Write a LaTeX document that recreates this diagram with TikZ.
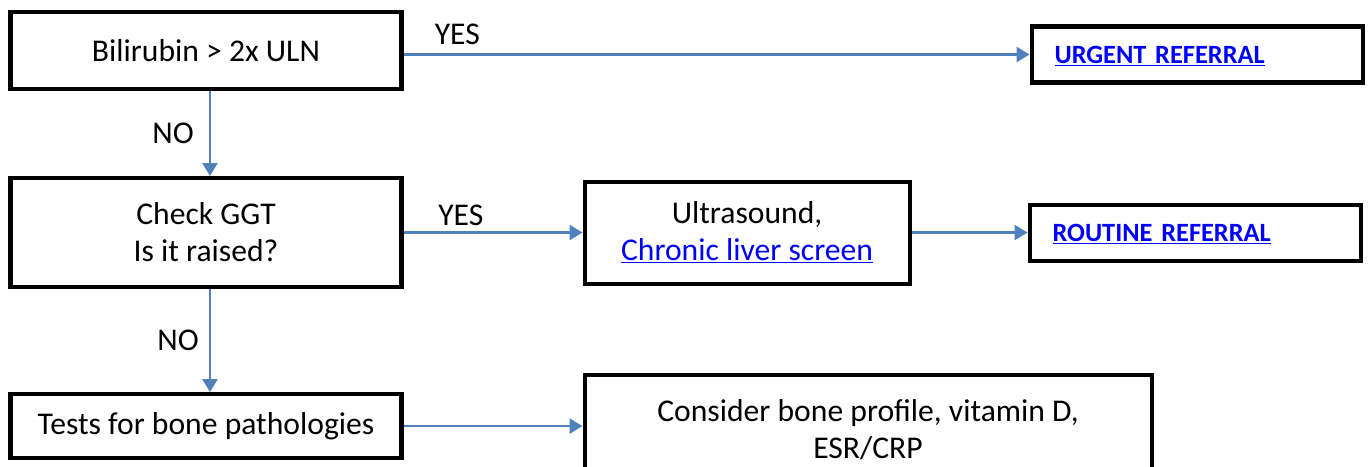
\documentclass[tikz,border=0pt]{standalone}
\usepackage{fontspec}
\setmainfont{Carlito}
\usetikzlibrary{arrows.meta, positioning}

\begin{document}
\begin{tikzpicture}[
    every node/.style={font=\fontsize{18}{21}\selectfont},
    stepbox/.style={rectangle, draw=black, line width=2.3pt, text centered, align=center, fill=white},
    referral/.style={rectangle, draw=black, line width=2.3pt, minimum height=1.12cm, text depth=0pt,
        inner xsep=0.46cm, text width=5.7cm, align=left, text=blue, font=\fontsize{15}{18}\selectfont\bfseries},
    arrow/.style={-{Triangle[length=0.26cm, width=0.3cm]}, line width=1.4pt, draw=arrowblue},
    answer/.style={inner sep=0pt}
]
\definecolor{arrowblue}{HTML}{4F81BD}
\useasboundingbox (0,0) rectangle (27.42,-9.32);

% Questions
\node[stepbox, minimum width=7.82cm, minimum height=1.54cm] (bili) at (4.12,-1.01) {Bilirubin > 2x ULN};
\node[stepbox, minimum width=7.82cm, minimum height=2.18cm, below=1.7cm of bili] (ggt) {Check GGT\\ Is it raised?};
\node[stepbox, minimum width=7.82cm, minimum height=1.28cm, below=2.06cm of ggt] (bone) {Tests for bone pathologies};

% Outcomes
\node[referral, right=12.52cm of bili, yshift=-0.08cm] (urgent) {\underline{URGENT REFERRAL}};
\node[stepbox, minimum width=6.5cm, minimum height=2.04cm, right=3.58cm of ggt] (ultra) {Ultrasound,\\ \textcolor{blue}{\underline{Chronic liver screen}}};
\node[referral, right=2.32cm of ultra] (routine) {\underline{ROUTINE REFERRAL}};
\node[stepbox, minimum width=11.34cm, minimum height=2.2cm, right=3.58cm of bone, yshift=-0.07cm] (profile) {Consider bone profile, vitamin D,\\ ESR/CRP};

\draw[arrow] (bili.east |- urgent.west) -- node[answer, pos=0.086, above=0.18cm] {YES} (urgent.west);
\draw[arrow] ([xshift=0.08cm]bili.south) -- node[answer, left=0.3cm] {NO} ([xshift=0.08cm]ggt.north);
\draw[arrow] (ggt.east) -- node[answer, pos=0.32, above=0.12cm] {YES} (ultra.west |- ggt.east);
\draw[arrow] (routine.west -| ultra.east) -- (routine.west);
\draw[arrow] ([xshift=0.08cm]ggt.south) -- node[answer, left=0.2cm] {NO} ([xshift=0.08cm]bone.north);
\draw[arrow] (bone.east) -- (bone.east -| profile.west);

\end{tikzpicture}
\end{document}
